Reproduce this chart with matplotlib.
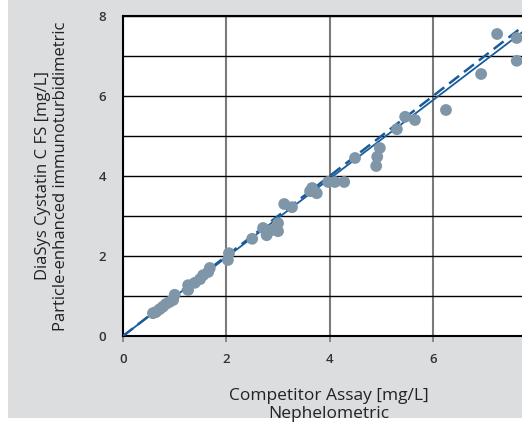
import numpy as np
import matplotlib.pyplot as plt
from matplotlib.patches import Rectangle
from matplotlib.ticker import MultipleLocator

plt.rcParams['font.family'] = ['Open Sans', 'DejaVu Sans']

# competitor assay (x) vs DiaSys Cystatin C FS (y), mg/L
comp = [0.58, 0.64, 0.71, 0.77, 0.83, 0.90, 0.97, 1.00, 1.26, 1.26, 1.39, 1.49,
        1.55, 1.65, 1.68, 2.03, 2.05, 2.50, 2.71, 2.78, 2.88, 3.00, 3.00, 3.12,
        3.27, 3.62, 3.66, 3.75, 3.97, 4.10, 4.28, 4.49, 4.90, 4.92, 4.97, 5.30,
        5.46, 5.65, 6.25, 6.93, 7.24, 7.62, 7.62]
diasys = [0.57, 0.60, 0.67, 0.73, 0.80, 0.85, 0.90, 1.03, 1.15, 1.27, 1.33, 1.42,
          1.52, 1.60, 1.70, 1.90, 2.07, 2.43, 2.70, 2.52, 2.65, 2.82, 2.62, 3.30,
          3.22, 3.62, 3.70, 3.57, 3.85, 3.85, 3.85, 4.45, 4.25, 4.48, 4.70, 5.17,
          5.48, 5.40, 5.65, 6.55, 7.55, 7.45, 6.88]
x_ticks = [0, 2, 4, 6]
fit_slope = 0.983
fit_icpt = 0.0

fig = plt.figure(figsize=(5.22, 4.30), dpi=100)
fig.patches.append(Rectangle((8 / 522, 12 / 430), 1, 1, transform=fig.transFigure,
                             facecolor='#dcdddf', edgecolor='none', zorder=-1))

ax = fig.add_axes([123 / 522, 94 / 430, 413.4 / 522, 320 / 430])
ax.set_facecolor('white')
ax.set_xlim(0, 8)
ax.set_ylim(0, 8)

ax.set_xticks(x_ticks)
ax.yaxis.set_major_locator(MultipleLocator(2))
ax.yaxis.set_minor_locator(MultipleLocator(1))
ax.grid(axis='x', which='major', color='#7a7a7a', lw=1.5, zorder=0)
ax.grid(axis='y', which='both', color='black', lw=1.0, zorder=0)
ax.set_axisbelow(True)

xs = np.array([0, 8.5])
ax.plot(xs, xs, color='#1a5c99', lw=1.8, ls=(0, (5, 2.5)), zorder=3)
ax.plot(xs, fit_slope * xs + fit_icpt, color='#1a5c99', lw=1.3, zorder=3)
ax.scatter(comp, diasys, s=72, color='#7f96a8', edgecolors='none', zorder=4)

for side in ['top', 'left', 'bottom']:
    ax.spines[side].set_color('black')
    ax.spines[side].set_linewidth(1.5)
ax.spines['right'].set_visible(False)

ax.tick_params(axis='x', length=4, width=1.2, color='#7a7a7a', pad=8,
               labelsize=9.5, labelcolor='#333333')
ax.tick_params(axis='y', which='both', length=0, pad=12,
               labelsize=9.5, labelcolor='#333333')
for lab in ax.get_xticklabels() + ax.get_yticklabels():
    lab.set_fontweight('semibold')

fig.text(329 / 522, 1 - 405 / 430, 'Competitor Assay [mg/L]\nNephelometric',
         ha='center', va='center', fontsize=12.5, color='#222222', linespacing=1.2)
fig.text(52 / 522, 1 - 176 / 430,
         'DiaSys Cystatin C FS [mg/L]\nParticle-enhanced immunoturbidimetric',
         ha='center', va='center', rotation=90, fontsize=12, color='#222222',
         linespacing=1.2)

fig.savefig('out.png', dpi=100)
